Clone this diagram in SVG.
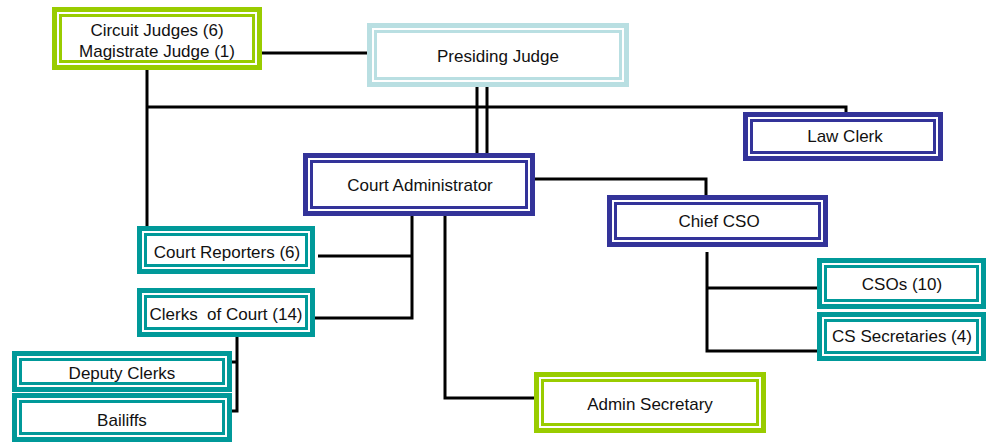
<svg xmlns="http://www.w3.org/2000/svg" width="989" height="442" viewBox="0 0 989 442">
<style>
.o{fill:#fff;stroke-width:5}
.i{fill:#fff;stroke-width:3}
.g{stroke:#99cc00}
.b{stroke:#b9dfe2}
.n{stroke:#333399}
.t{stroke:#009999}
text{font-family:"Liberation Sans",Arial,sans-serif;font-size:17px;fill:#111;text-anchor:middle}
.c{fill:none;stroke:#000;stroke-width:3}
</style>
<rect width="989" height="442" fill="#fff"/>
<g id="connectors">
<path class="c" d="M262 53H369"/>
<path class="c" d="M147 70V228"/>
<path class="c" d="M147 107H846V114"/>
<path class="c" d="M477 87V157M487 87V157"/>
<path class="c" d="M413 156H488"/>
<path class="c" d="M535 179H706V197"/>
<path class="c" d="M412 214V318H315M412 256H318"/>
<path class="c" d="M445 214V398H536"/>
<path class="c" d="M237 337V411H228M237 362H230"/>
<path class="c" d="M707 252V351H819M707 288H819"/>
</g>
<g id="circuit-judges">
<rect class="o g" x="54.5" y="9.5" width="205" height="58"/>
<rect class="i g" x="60.5" y="15.5" width="193" height="46"/>
<text x="157" y="36">Circuit Judges (6)</text>
<text x="157" y="57">Magistrate Judge (1)</text>
</g>
<g id="presiding-judge">
<rect class="o b" x="369.5" y="25.5" width="257" height="59"/>
<rect class="i b" x="375.5" y="31.5" width="245" height="47"/>
<text x="498" y="62">Presiding Judge</text>
</g>
<g id="law-clerk">
<rect class="o n" x="745.5" y="114.5" width="195" height="44"/>
<rect class="i n" x="751.5" y="120.5" width="183" height="32"/>
<text x="845" y="142">Law Clerk</text>
</g>
<g id="court-administrator">
<rect class="o n" x="305.5" y="155.5" width="227" height="58"/>
<rect class="i n" x="311.5" y="161.5" width="215" height="46"/>
<text x="420" y="191">Court Administrator</text>
</g>
<g id="chief-cso">
<rect class="o n" x="609.5" y="197.5" width="216" height="47"/>
<rect class="i n" x="615.5" y="203.5" width="204" height="35"/>
<text x="719" y="227">Chief CSO</text>
</g>
<g id="court-reporters">
<rect class="o t" x="139.5" y="228.5" width="173" height="43"/>
<rect class="i t" x="145.5" y="234.5" width="161" height="31"/>
<text x="227" y="258">Court Reporters (6)</text>
</g>
<g id="clerks-of-court">
<rect class="o t" x="139.5" y="290.5" width="173" height="44"/>
<rect class="i t" x="145.5" y="296.5" width="161" height="32"/>
<text x="226" y="320" xml:space="preserve">Clerks  of Court (14)</text>
</g>
<g id="deputy-clerks">
<rect class="o t" x="14.5" y="353.5" width="215" height="36"/>
<rect class="i t" x="20.5" y="359.5" width="203" height="24"/>
<text x="122" y="379">Deputy Clerks</text>
</g>
<g id="bailiffs">
<rect class="o t" x="14.5" y="395.5" width="215" height="44"/>
<rect class="i t" x="20.5" y="401.5" width="203" height="32"/>
<text x="122" y="426">Bailiffs</text>
</g>
<g id="admin-secretary">
<rect class="o g" x="536.5" y="374.5" width="227" height="56"/>
<rect class="i g" x="542.5" y="380.5" width="215" height="44"/>
<text x="650" y="410">Admin Secretary</text>
</g>
<g id="csos">
<rect class="o t" x="819.5" y="260.5" width="164" height="46"/>
<rect class="i t" x="825.5" y="266.5" width="152" height="34"/>
<text x="902" y="290">CSOs (10)</text>
</g>
<g id="cs-secretaries">
<rect class="o t" x="819.5" y="314.5" width="164" height="44"/>
<rect class="i t" x="825.5" y="320.5" width="152" height="32"/>
<text x="902" y="342">CS Secretaries (4)</text>
</g>
</svg>
